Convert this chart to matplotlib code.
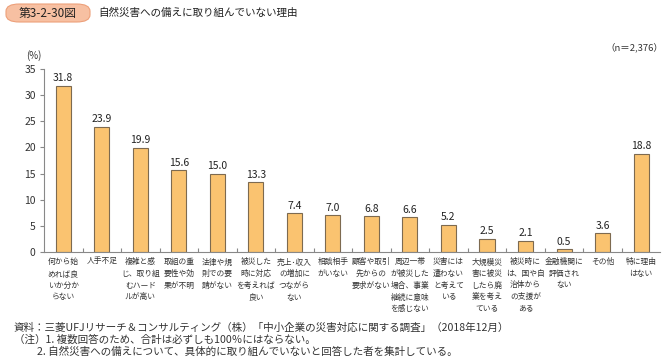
import matplotlib.pyplot as plt
from matplotlib.patches import FancyBboxPatch

plt.rcParams['font.family'] = ['Noto Sans CJK JP', 'DejaVu Sans']

labels = [
    "何から始\nめれば良\nいか分か\nらない",
    "人手不足",
    "複雑と感\nじ、取り組\nむハード\nルが高い",
    "取組の重\n要性や効\n果が不明",
    "法律や規\n則での要\n請がない",
    "被災した\n時に対応\nを考えれば\n良い",
    "売上･収入\nの増加に\nつながら\nない",
    "相談相手\nがいない",
    "顧客や取引\n先からの\n要求がない",
    "周辺一帯\nが被災した\n場合、事業\n継続に意味\nを感じない",
    "災害には\n遭わない\nと考えて\nいる",
    "大規模災\n害に被災\nしたら廃\n業を考え\nている",
    "被災時に\nは、国や自\n治体から\nの支援が\nある",
    "金融機関に\n評価され\nない",
    "その他",
    "特に理由\nはない",
]
values = [31.8, 23.9, 19.9, 15.6, 15.0, 13.3, 7.4, 7.0, 6.8, 6.6, 5.2, 2.5, 2.1, 0.5, 3.6, 18.8]
yticks = [0, 5, 10, 15, 20, 25, 30, 35]

text_color = '#333333'
axis_color = '#888888'

fig = plt.figure(figsize=(6.67, 3.6), dpi=100)
ax = fig.add_axes([0.066, 0.30, 0.924, 0.5083])

x = list(range(len(values)))
ax.bar(x, values, width=0.39, color='#FAC370', edgecolor='#7d6a50', linewidth=0.8)
for xi, v in zip(x, values):
    ax.text(xi, v + 0.5, f"{v:.1f}", ha='center', va='bottom', fontsize=7.5, color='#222222')

ax.set_xlim(-0.5, len(values) - 0.5)
ax.set_ylim(0, 35)
ax.set_yticks(yticks)
ax.set_yticklabels([str(t) for t in yticks], fontsize=7.5, color=text_color)
ax.set_xticks([i + 0.5 for i in range(len(values) - 1)])
ax.set_xticklabels([])
ax.tick_params(axis='x', direction='in', length=3, color=axis_color, width=0.8)
ax.tick_params(axis='y', direction='out', length=3, color=axis_color, width=0.8, pad=3)
for s in ['top', 'right']:
    ax.spines[s].set_visible(False)
ax.spines['left'].set_color(axis_color)
ax.spines['bottom'].set_color(axis_color)
ax.spines['left'].set_linewidth(0.8)
ax.spines['bottom'].set_linewidth(0.8)

# category labels under the bars
for xi, lab in zip(x, labels):
    ax.annotate(lab, xy=(xi, 0), xycoords='data', xytext=(0, -4.5), textcoords='offset points',
                ha='center', va='top', fontsize=5.6, color=text_color, linespacing=1.6)

fig.text(34 / 667, 1 - 56 / 360, "(%)", ha='center', va='center', fontsize=7, color=text_color)
fig.text(663 / 667, 1 - 47 / 360, "（n＝2,376）", ha='right', va='center', fontsize=6.8, color=text_color)

# title badge
badge = FancyBboxPatch((6 / 667, 1 - 22 / 360), 84 / 667, 18 / 360,
                       boxstyle="round,pad=0,rounding_size=0.02",
                       transform=fig.transFigure, facecolor='#F7C0A2', edgecolor='#EDA07A',
                       linewidth=0.8)
fig.patches.append(badge)
fig.text(48 / 667, 1 - 13 / 360, "第3-2-30図", ha='center', va='center', fontsize=8.5, color='#222222')
fig.text(98 / 667, 1 - 13 / 360, "自然災害への備えに取り組んでいない理由", ha='left', va='center',
         fontsize=7.6, color='#222222')

notes = [
    (14, 328, "資料：三菱UFJリサーチ＆コンサルティング（株）「中小企業の災害対応に関する調査」（2018年12月）"),
    (14, 340, "（注）1. 複数回答のため、合計は必ずしも100％にはならない。"),
    (37, 352, "2. 自然災害への備えについて、具体的に取り組んでいないと回答した者を集計している。"),
]
for nx, ny, t in notes:
    fig.text(nx / 667, 1 - ny / 360, t, ha='left', va='center', fontsize=7.6, color=text_color)

fig.savefig('out.png', dpi=100)
